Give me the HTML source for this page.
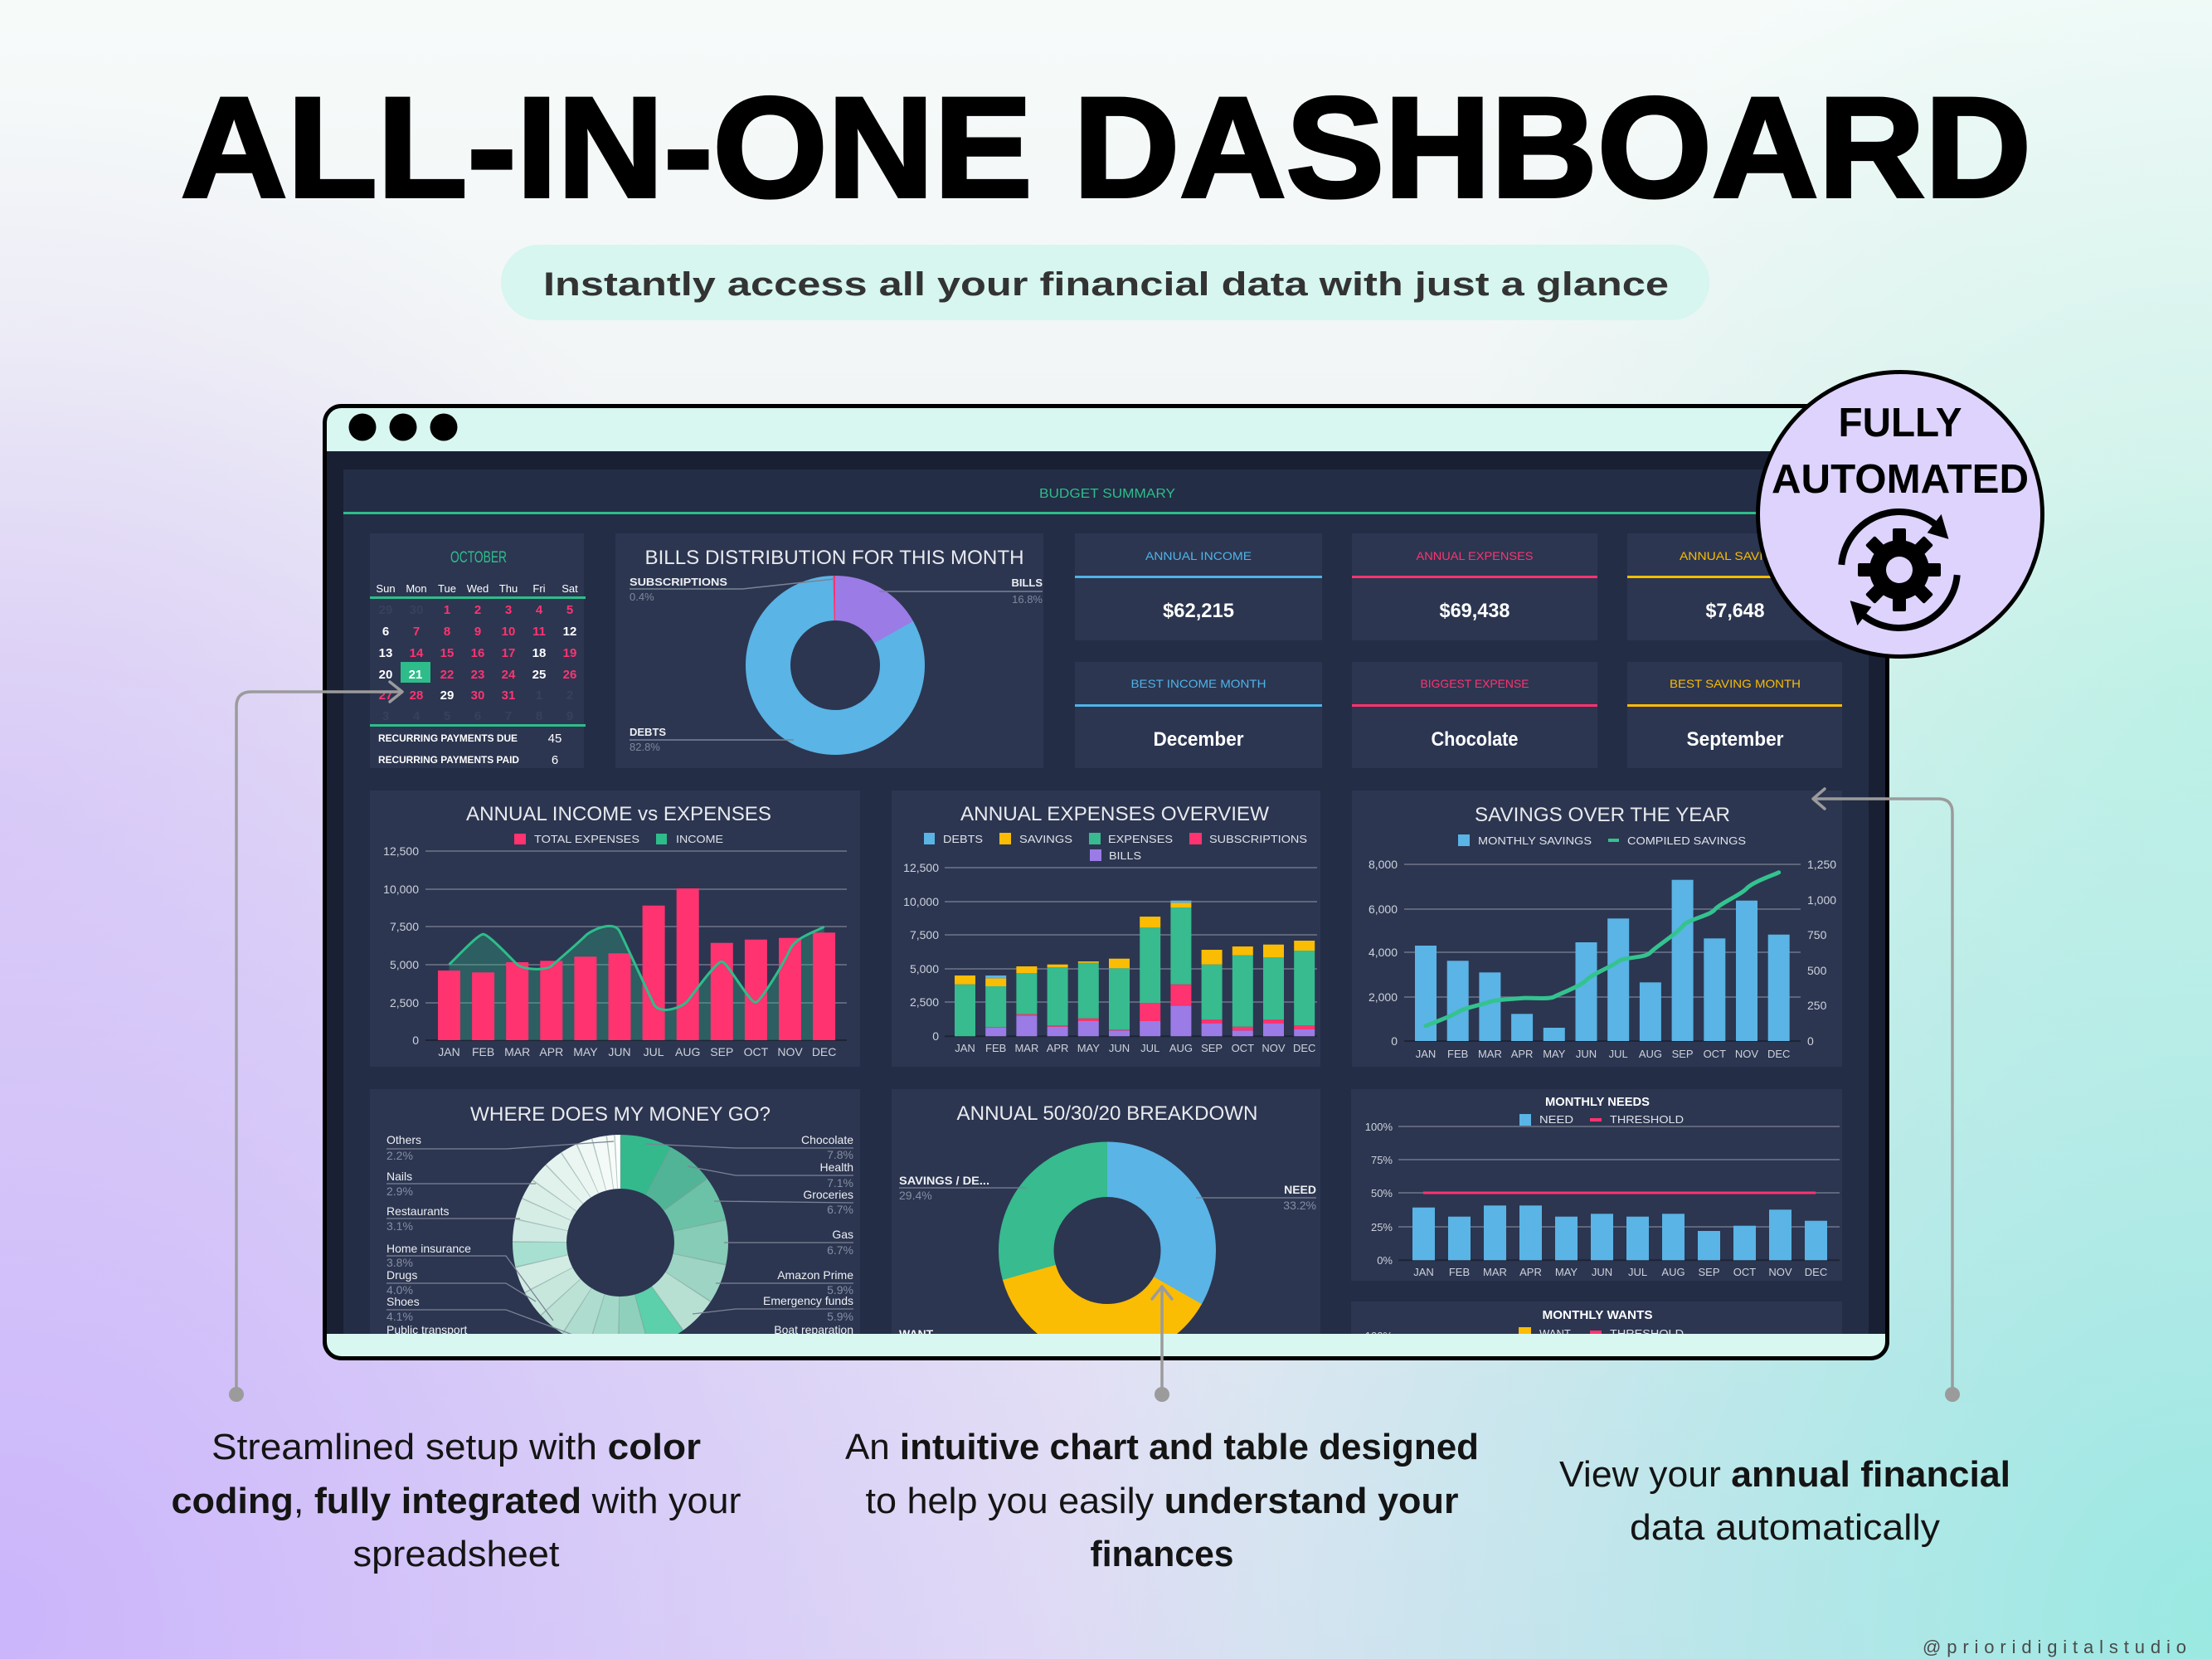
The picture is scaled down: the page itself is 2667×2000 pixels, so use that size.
<!DOCTYPE html>
<html><head><meta charset="utf-8"><style>
html,body{margin:0;padding:0;background:#f3f5f6;}
svg{display:block;}
text{font-family:"Liberation Sans",Arial,sans-serif;}
.ax{fill:#cdd2db;font-size:14px;}
.axr{fill:#cdd2db;font-size:14px;text-anchor:end;}
.mo{fill:#cdd2db;font-size:14px;text-anchor:middle;}
.mo2{fill:#cdd2db;font-size:13px;text-anchor:middle;}
.ct{fill:#e9eaee;font-size:24px;text-anchor:middle;}
.lg{fill:#dfe2e8;font-size:13px;}
.dp{fill:#ff3370;font-size:15px;font-weight:bold;text-anchor:middle;}
.dw{fill:#ffffff;font-size:15px;font-weight:bold;text-anchor:middle;}
.dd{fill:#36415c;font-size:15px;font-weight:bold;text-anchor:middle;}
.nm{fill:#eef0f3;font-size:14px;}
.pc{fill:#858ea2;font-size:14px;}
.cap{font-size:44px;fill:#141414;text-anchor:middle;}
</style></head><body>
<svg xmlns="http://www.w3.org/2000/svg" width="2667" height="2000" viewBox="0 0 2667 2000">
<defs>
  <linearGradient id="bg" x1="0" y1="0" x2="0" y2="1">
    <stop offset="0" stop-color="#f6fbfa"/>
    <stop offset="0.4" stop-color="#eff1f3"/>
    <stop offset="1" stop-color="#e3e1f4"/>
  </linearGradient>
  <radialGradient id="lav" cx="0" cy="1950" r="1550" gradientUnits="userSpaceOnUse">
    <stop offset="0" stop-color="#cbb5fb" stop-opacity="1"/>
    <stop offset="1" stop-color="#cbb5fb" stop-opacity="0"/>
  </radialGradient>
  <radialGradient id="aqua" cx="2667" cy="1950" r="1400" gradientUnits="userSpaceOnUse">
    <stop offset="0" stop-color="#9ae9e2" stop-opacity="1"/>
    <stop offset="1" stop-color="#9ae9e2" stop-opacity="0"/>
  </radialGradient>
  <radialGradient id="mintR" cx="2667" cy="850" r="1000" gradientUnits="userSpaceOnUse">
    <stop offset="0" stop-color="#c2f3e6" stop-opacity="0.9"/>
    <stop offset="1" stop-color="#c2f3e6" stop-opacity="0"/>
  </radialGradient>
  <radialGradient id="lavL" cx="0" cy="1000" r="900" gradientUnits="userSpaceOnUse">
    <stop offset="0" stop-color="#dccff6" stop-opacity="0.8"/>
    <stop offset="1" stop-color="#dccff6" stop-opacity="0"/>
  </radialGradient>
  <clipPath id="dash"><rect x="394" y="544" width="1879" height="1064"/></clipPath>
</defs>

<!-- background -->
<rect x="0" y="0" width="2667" height="2000" fill="url(#bg)"/>
<rect x="0" y="0" width="2667" height="2000" fill="url(#lavL)"/>
<rect x="0" y="0" width="2667" height="2000" fill="url(#mintR)"/>
<rect x="0" y="0" width="2667" height="2000" fill="url(#lav)"/>
<rect x="0" y="0" width="2667" height="2000" fill="url(#aqua)"/>

<!-- title -->
<text x="218" y="237" font-size="172" font-weight="bold" fill="#000" stroke="#000" stroke-width="4" textLength="2231" lengthAdjust="spacingAndGlyphs">ALL-IN-ONE DASHBOARD</text>

<!-- subtitle pill -->
<rect x="604" y="295" width="1457" height="91" rx="45.5" fill="#d6f6ef"/>
<text x="655" y="356" font-size="40" font-weight="bold" fill="#333" textLength="1357" lengthAdjust="spacingAndGlyphs">Instantly access all your financial data with just a glance</text>

<!-- window -->
<rect x="391.5" y="489.5" width="1884" height="1148" rx="20" fill="#d8f7f1"/>
<circle cx="437" cy="515" r="16.5" fill="#000"/>
<circle cx="486" cy="515" r="16.5" fill="#000"/>
<circle cx="535" cy="515" r="16.5" fill="#000"/>

<g clip-path="url(#dash)">
<rect x="394" y="544" width="1879" height="1064" fill="#1a2034"/>
<rect x="414" y="566" width="1839" height="1042" fill="#232d46"/>
<text x="1335" y="600" font-size="16" fill="#2ebd8a" text-anchor="middle" textLength="164" lengthAdjust="spacingAndGlyphs">BUDGET SUMMARY</text>
<rect x="414" y="617" width="1839" height="3" fill="#2ebd8a"/>

<!-- calendar -->
<rect x="446" y="643" width="258" height="283" fill="#2c3651"/>
<text x="577" y="678" font-size="19" fill="#2ebd8a" text-anchor="middle" textLength="68" lengthAdjust="spacingAndGlyphs">OCTOBER</text>
<g font-size="13" fill="#fff" text-anchor="middle">
<text x="465" y="714">Sun</text><text x="502" y="714">Mon</text><text x="539" y="714">Tue</text><text x="576" y="714">Wed</text><text x="613" y="714">Thu</text><text x="650" y="714">Fri</text><text x="687" y="714">Sat</text>
</g>
<rect x="446" y="719" width="260" height="3" fill="#2ebd8a"/>
<text class="dd" x="465" y="740">29</text><text class="dd" x="502" y="740">30</text><text class="dp" x="539" y="740">1</text><text class="dp" x="576" y="740">2</text><text class="dp" x="613" y="740">3</text><text class="dp" x="650" y="740">4</text><text class="dp" x="687" y="740">5</text>
<text class="dw" x="465" y="766">6</text><text class="dp" x="502" y="766">7</text><text class="dp" x="539" y="766">8</text><text class="dp" x="576" y="766">9</text><text class="dp" x="613" y="766">10</text><text class="dp" x="650" y="766">11</text><text class="dw" x="687" y="766">12</text>
<text class="dw" x="465" y="792">13</text><text class="dp" x="502" y="792">14</text><text class="dp" x="539" y="792">15</text><text class="dp" x="576" y="792">16</text><text class="dp" x="613" y="792">17</text><text class="dw" x="650" y="792">18</text><text class="dp" x="687" y="792">19</text>
<rect x="483" y="798" width="36" height="25" fill="#2ebd8a"/>
<text class="dw" x="465" y="818">20</text><text class="dw" x="501" y="818">21</text><text class="dp" x="539" y="818">22</text><text class="dp" x="576" y="818">23</text><text class="dp" x="613" y="818">24</text><text class="dw" x="650" y="818">25</text><text class="dp" x="687" y="818">26</text>
<text class="dp" x="465" y="843">27</text><text class="dp" x="502" y="843">28</text><text class="dw" x="539" y="843">29</text><text class="dp" x="576" y="843">30</text><text class="dp" x="613" y="843">31</text><text class="dd" x="650" y="843">1</text><text class="dd" x="687" y="843">2</text>
<text class="dd" x="465" y="868">3</text><text class="dd" x="502" y="868">4</text><text class="dd" x="539" y="868">5</text><text class="dd" x="576" y="868">6</text><text class="dd" x="613" y="868">7</text><text class="dd" x="650" y="868">8</text><text class="dd" x="687" y="868">9</text>
<rect x="446" y="873" width="260" height="3" fill="#2ebd8a"/>
<text x="456" y="894" font-size="12" font-weight="bold" fill="#fff" textLength="168" lengthAdjust="spacingAndGlyphs">RECURRING PAYMENTS DUE</text>
<text x="669" y="895" font-size="15" fill="#fff" text-anchor="middle">45</text>
<text x="456" y="920" font-size="12" font-weight="bold" fill="#fff" textLength="170" lengthAdjust="spacingAndGlyphs">RECURRING PAYMENTS PAID</text>
<text x="669" y="921" font-size="15" fill="#fff" text-anchor="middle">6</text>

<!-- bills distribution -->
<rect x="742" y="643" width="516" height="283" fill="#2c3651"/>
<text x="1006" y="680" font-size="24" fill="#e9eaee" text-anchor="middle" textLength="457" lengthAdjust="spacingAndGlyphs">BILLS DISTRIBUTION FOR THIS MONTH</text>
<g transform="rotate(-90 1007 802)" fill="none" stroke-width="54">
  <circle cx="1007" cy="802" r="81" stroke="#9b7be6" stroke-dasharray="86 600" stroke-dashoffset="0"/>
  <circle cx="1007" cy="802" r="81" stroke="#5ab4e5" stroke-dasharray="421.9 600" stroke-dashoffset="-85.5"/>
  <circle cx="1007" cy="802" r="81" stroke="#ff3370" stroke-dasharray="2.2 600" stroke-dashoffset="-506.8"/>
</g>
<g stroke="#7b8394" stroke-width="1.5" fill="none">
  <path d="M759,710 L895,710 L1006,698"/>
  <path d="M1257,713 L1060,713"/>
  <path d="M759,892 L957,892"/>
</g>
<text x="759" y="706" font-size="13" font-weight="bold" fill="#eef0f3" textLength="118" lengthAdjust="spacingAndGlyphs">SUBSCRIPTIONS</text>
<text x="759" y="724" font-size="13" fill="#7f889b">0.4%</text>
<text x="1257" y="707" font-size="13" font-weight="bold" fill="#eef0f3" text-anchor="end">BILLS</text>
<text x="1257" y="727" font-size="13" fill="#7f889b" text-anchor="end">16.8%</text>
<text x="759" y="887" font-size="13" font-weight="bold" fill="#eef0f3">DEBTS</text>
<text x="759" y="905" font-size="13" fill="#7f889b">82.8%</text>

<!-- KPI cards -->
<g>
<rect x="1296" y="643" width="298" height="129" fill="#2c3651"/>
<rect x="1630" y="643" width="296" height="129" fill="#2c3651"/>
<rect x="1962" y="643" width="259" height="129" fill="#2c3651"/>
<rect x="1296" y="798" width="298" height="128" fill="#2c3651"/>
<rect x="1630" y="798" width="296" height="128" fill="#2c3651"/>
<rect x="1962" y="798" width="259" height="128" fill="#2c3651"/>
<rect x="1296" y="694" width="298" height="3" fill="#4fb3e8"/>
<rect x="1630" y="694" width="296" height="3" fill="#ff3370"/>
<rect x="1962" y="694" width="259" height="3" fill="#fbbc04"/>
<rect x="1296" y="849" width="298" height="3" fill="#4fb3e8"/>
<rect x="1630" y="849" width="296" height="3" fill="#ff3370"/>
<rect x="1962" y="849" width="259" height="3" fill="#fbbc04"/>
<text x="1445" y="675" font-size="14" fill="#4fb3e8" text-anchor="middle" textLength="128" lengthAdjust="spacingAndGlyphs">ANNUAL INCOME</text>
<text x="1778" y="675" font-size="14" fill="#ff3370" text-anchor="middle" textLength="141" lengthAdjust="spacingAndGlyphs">ANNUAL EXPENSES</text>
<text x="2092" y="675" font-size="14" fill="#fbbc04" text-anchor="middle" textLength="134" lengthAdjust="spacingAndGlyphs">ANNUAL SAVINGS</text>
<text x="1445" y="829" font-size="14" fill="#4fb3e8" text-anchor="middle" textLength="163" lengthAdjust="spacingAndGlyphs">BEST INCOME MONTH</text>
<text x="1778" y="829" font-size="14" fill="#ff3370" text-anchor="middle" textLength="131" lengthAdjust="spacingAndGlyphs">BIGGEST EXPENSE</text>
<text x="2092" y="829" font-size="14" fill="#fbbc04" text-anchor="middle" textLength="158" lengthAdjust="spacingAndGlyphs">BEST SAVING MONTH</text>
<g font-size="24" font-weight="bold" fill="#fff" text-anchor="middle">
<text x="1445" y="744" textLength="86" lengthAdjust="spacingAndGlyphs">$62,215</text>
<text x="1778" y="744" textLength="85" lengthAdjust="spacingAndGlyphs">$69,438</text>
<text x="2092" y="744" textLength="71" lengthAdjust="spacingAndGlyphs">$7,648</text>
<text x="1445" y="899" textLength="109" lengthAdjust="spacingAndGlyphs">December</text>
<text x="1778" y="899" textLength="105" lengthAdjust="spacingAndGlyphs">Chocolate</text>
<text x="2092" y="899" textLength="117" lengthAdjust="spacingAndGlyphs">September</text>
</g>
</g>

<!-- Chart A: income vs expenses -->
<rect x="446" y="953" width="591" height="333" fill="#2c3651"/>
<text class="ct" x="746" y="989" textLength="368" lengthAdjust="spacingAndGlyphs">ANNUAL INCOME vs EXPENSES</text>
<rect x="620" y="1005" width="14" height="13" fill="#ff3370"/>
<text class="lg" x="644" y="1016" textLength="127" lengthAdjust="spacingAndGlyphs">TOTAL EXPENSES</text>
<rect x="791" y="1005" width="13" height="13" fill="#2ebd8a"/>
<text class="lg" x="815" y="1016" textLength="57" lengthAdjust="spacingAndGlyphs">INCOME</text>
<g stroke="#6f7688" stroke-width="1.5">
<line x1="513" y1="1026" x2="1021" y2="1026"/><line x1="513" y1="1072" x2="1021" y2="1072"/><line x1="513" y1="1117" x2="1021" y2="1117"/><line x1="513" y1="1163" x2="1021" y2="1163"/><line x1="513" y1="1209" x2="1021" y2="1209"/>
</g>
<line x1="513" y1="1254" x2="1021" y2="1254" stroke="#1e2436" stroke-width="2"/>
<g class="axr">
<text class="axr" x="505" y="1031">12,500</text><text class="axr" x="505" y="1077">10,000</text><text class="axr" x="505" y="1122">7,500</text><text class="axr" x="505" y="1168">5,000</text><text class="axr" x="505" y="1214">2,500</text><text class="axr" x="505" y="1259">0</text>
</g>
<path d="M541.5,1254 L541.5,1162.8 C548.35,1156.7 575.75,1126.3 582.6,1126.3 C589.45,1126.3 616.85,1156.4 623.7,1162.8 C630.55,1169.2 657.95,1170.4 664.8,1164.6 C671.65,1158.8 699.05,1135.1 705.9,1128.1 C712.75,1121.1 740.15,1108.9 747,1122.7 C753.85,1136.4 781.25,1196.2 788.1,1210.2 C794.95,1224.2 822.35,1215.1 829.2,1206.6 C836.05,1198.1 863.45,1158.9 870.3,1159.2 C877.15,1159.5 904.55,1210.8 911.4,1208.4 C918.25,1206 945.65,1159.8 952.5,1144.6 C959.35,1129.4 986.75,1121.8 993.6,1117.2 L993.6,1254 Z" fill="#2ebd8a" fill-opacity="0.3"/>
<g fill="#ff3370">
<rect x="528" y="1170" width="27" height="84"/><rect x="569.1" y="1172.3" width="27" height="81.7"/><rect x="610.2" y="1160" width="27" height="94"/><rect x="651.3" y="1158.3" width="27" height="95.7"/><rect x="692.4" y="1153.3" width="27" height="100.7"/><rect x="733.5" y="1149.3" width="27" height="104.7"/><rect x="774.6" y="1091.7" width="27" height="162.3"/><rect x="815.7" y="1071" width="27" height="183"/><rect x="856.8" y="1136.7" width="27" height="117.3"/><rect x="897.9" y="1132.7" width="27" height="121.3"/><rect x="939" y="1130.7" width="27" height="123.3"/><rect x="980.1" y="1124.3" width="27" height="129.7"/>
</g>
<path d="M541.5,1162.8 C548.35,1156.7 575.75,1126.3 582.6,1126.3 C589.45,1126.3 616.85,1156.4 623.7,1162.8 C630.55,1169.2 657.95,1170.4 664.8,1164.6 C671.65,1158.8 699.05,1135.1 705.9,1128.1 C712.75,1121.1 740.15,1108.9 747,1122.7 C753.85,1136.4 781.25,1196.2 788.1,1210.2 C794.95,1224.2 822.35,1215.1 829.2,1206.6 C836.05,1198.1 863.45,1158.9 870.3,1159.2 C877.15,1159.5 904.55,1210.8 911.4,1208.4 C918.25,1206 945.65,1159.8 952.5,1144.6 C959.35,1129.4 986.75,1121.8 993.6,1117.2" fill="none" stroke="#2ebd8a" stroke-width="3"/>
<text class="mo" x="541.5" y="1273">JAN</text><text class="mo" x="582.6" y="1273">FEB</text><text class="mo" x="623.7" y="1273">MAR</text><text class="mo" x="664.8" y="1273">APR</text><text class="mo" x="705.9" y="1273">MAY</text><text class="mo" x="747" y="1273">JUN</text><text class="mo" x="788.1" y="1273">JUL</text><text class="mo" x="829.2" y="1273">AUG</text><text class="mo" x="870.3" y="1273">SEP</text><text class="mo" x="911.4" y="1273">OCT</text><text class="mo" x="952.5" y="1273">NOV</text><text class="mo" x="993.6" y="1273">DEC</text>

<!-- Chart B: expenses overview -->
<rect x="1075" y="953" width="517" height="333" fill="#2c3651"/>
<text class="ct" x="1344" y="989" textLength="372" lengthAdjust="spacingAndGlyphs">ANNUAL EXPENSES OVERVIEW</text>
<rect x="1114" y="1004" width="13" height="14" fill="#5ab4e5"/><text class="lg" x="1137" y="1016" textLength="48" lengthAdjust="spacingAndGlyphs">DEBTS</text>
<rect x="1205" y="1004" width="14" height="14" fill="#fbbc04"/><text class="lg" x="1229" y="1016" textLength="64" lengthAdjust="spacingAndGlyphs">SAVINGS</text>
<rect x="1313" y="1004" width="14" height="14" fill="#37bb8f"/><text class="lg" x="1336" y="1016" textLength="78" lengthAdjust="spacingAndGlyphs">EXPENSES</text>
<rect x="1434" y="1004" width="15" height="14" fill="#ff3370"/><text class="lg" x="1458" y="1016" textLength="118" lengthAdjust="spacingAndGlyphs">SUBSCRIPTIONS</text>
<rect x="1314" y="1024" width="14" height="14" fill="#9b7be6"/><text class="lg" x="1337" y="1036" textLength="39" lengthAdjust="spacingAndGlyphs">BILLS</text>
<g stroke="#6f7688" stroke-width="1.5">
<line x1="1139" y1="1046" x2="1588" y2="1046"/><line x1="1139" y1="1087" x2="1588" y2="1087"/><line x1="1139" y1="1127" x2="1588" y2="1127"/><line x1="1139" y1="1168" x2="1588" y2="1168"/><line x1="1139" y1="1208" x2="1588" y2="1208"/>
</g>
<line x1="1139" y1="1249.3" x2="1588" y2="1249.3" stroke="#1e2436" stroke-width="2"/>
<text class="axr" x="1132" y="1051">12,500</text><text class="axr" x="1132" y="1092">10,000</text><text class="axr" x="1132" y="1132">7,500</text><text class="axr" x="1132" y="1173">5,000</text><text class="axr" x="1132" y="1213">2,500</text><text class="axr" x="1132" y="1254">0</text>
<g>
<rect x="1151" y="1186.7" width="25" height="62.6" fill="#37bb8f"/><rect x="1151" y="1176" width="25" height="10.7" fill="#fbbc04"/>
<rect x="1188.2" y="1239" width="25" height="10.3" fill="#9b7be6"/><rect x="1188.2" y="1238" width="25" height="1" fill="#ff3370"/><rect x="1188.2" y="1189" width="25" height="49" fill="#37bb8f"/><rect x="1188.2" y="1179.3" width="25" height="9.7" fill="#fbbc04"/><rect x="1188.2" y="1176" width="25" height="3.3" fill="#5ab4e5"/>
<rect x="1225.4" y="1224.3" width="25" height="25" fill="#9b7be6"/><rect x="1225.4" y="1222.7" width="25" height="1.6" fill="#ff3370"/><rect x="1225.4" y="1173.3" width="25" height="49.4" fill="#37bb8f"/><rect x="1225.4" y="1165" width="25" height="8.3" fill="#fbbc04"/>
<rect x="1262.6" y="1237.7" width="25" height="11.6" fill="#9b7be6"/><rect x="1262.6" y="1236.3" width="25" height="1.4" fill="#ff3370"/><rect x="1262.6" y="1166" width="25" height="70.3" fill="#37bb8f"/><rect x="1262.6" y="1162.7" width="25" height="3.3" fill="#fbbc04"/>
<rect x="1299.8" y="1231" width="25" height="18.3" fill="#9b7be6"/><rect x="1299.8" y="1227.7" width="25" height="3.3" fill="#ff3370"/><rect x="1299.8" y="1160.7" width="25" height="67" fill="#37bb8f"/><rect x="1299.8" y="1159" width="25" height="1.7" fill="#fbbc04"/>
<rect x="1337" y="1242.3" width="25" height="7" fill="#9b7be6"/><rect x="1337" y="1241.3" width="25" height="1" fill="#ff3370"/><rect x="1337" y="1167.3" width="25" height="74" fill="#37bb8f"/><rect x="1337" y="1155.7" width="25" height="11.6" fill="#fbbc04"/>
<rect x="1374.2" y="1231" width="25" height="18.3" fill="#9b7be6"/><rect x="1374.2" y="1209" width="25" height="22" fill="#ff3370"/><rect x="1374.2" y="1118.3" width="25" height="90.7" fill="#37bb8f"/><rect x="1374.2" y="1105" width="25" height="13.3" fill="#fbbc04"/>
<rect x="1411.4" y="1212.3" width="25" height="37" fill="#9b7be6"/><rect x="1411.4" y="1186.7" width="25" height="25.6" fill="#ff3370"/><rect x="1411.4" y="1094" width="25" height="92.7" fill="#37bb8f"/><rect x="1411.4" y="1088.3" width="25" height="5.7" fill="#fbbc04"/><rect x="1411.4" y="1085.7" width="25" height="2.6" fill="#5ab4e5"/>
<rect x="1448.6" y="1234" width="25" height="15.3" fill="#9b7be6"/><rect x="1448.6" y="1229" width="25" height="5" fill="#ff3370"/><rect x="1448.6" y="1162.7" width="25" height="66.3" fill="#37bb8f"/><rect x="1448.6" y="1145" width="25" height="17.7" fill="#fbbc04"/>
<rect x="1485.8" y="1242.3" width="25" height="7" fill="#9b7be6"/><rect x="1485.8" y="1237.7" width="25" height="4.6" fill="#ff3370"/><rect x="1485.8" y="1151.7" width="25" height="86" fill="#37bb8f"/><rect x="1485.8" y="1141" width="25" height="10.7" fill="#fbbc04"/>
<rect x="1523" y="1234" width="25" height="15.3" fill="#9b7be6"/><rect x="1523" y="1229" width="25" height="5" fill="#ff3370"/><rect x="1523" y="1154.3" width="25" height="74.7" fill="#37bb8f"/><rect x="1523" y="1138.7" width="25" height="15.6" fill="#fbbc04"/>
<rect x="1560.2" y="1241" width="25" height="8.3" fill="#9b7be6"/><rect x="1560.2" y="1236.3" width="25" height="4.7" fill="#ff3370"/><rect x="1560.2" y="1146" width="25" height="90.3" fill="#37bb8f"/><rect x="1560.2" y="1134" width="25" height="12" fill="#fbbc04"/>
</g>
<text class="mo2" x="1163.5" y="1268">JAN</text><text class="mo2" x="1200.7" y="1268">FEB</text><text class="mo2" x="1237.9" y="1268">MAR</text><text class="mo2" x="1275.1" y="1268">APR</text><text class="mo2" x="1312.3" y="1268">MAY</text><text class="mo2" x="1349.5" y="1268">JUN</text><text class="mo2" x="1386.7" y="1268">JUL</text><text class="mo2" x="1423.9" y="1268">AUG</text><text class="mo2" x="1461.1" y="1268">SEP</text><text class="mo2" x="1498.3" y="1268">OCT</text><text class="mo2" x="1535.5" y="1268">NOV</text><text class="mo2" x="1572.7" y="1268">DEC</text>

<!-- Chart C: savings -->
<rect x="1630" y="953" width="591" height="333" fill="#2c3651"/>
<text class="ct" x="1932" y="990" textLength="308" lengthAdjust="spacingAndGlyphs">SAVINGS OVER THE YEAR</text>
<rect x="1758" y="1006" width="14" height="14" fill="#5ab4e5"/><text class="lg" x="1782" y="1018" textLength="137" lengthAdjust="spacingAndGlyphs">MONTHLY SAVINGS</text>
<line x1="1939" y1="1013" x2="1952" y2="1013" stroke="#34c38f" stroke-width="4"/><text class="lg" x="1962" y="1018" textLength="143" lengthAdjust="spacingAndGlyphs">COMPILED SAVINGS</text>
<g stroke="#6f7688" stroke-width="1.5">
<line x1="1693" y1="1042" x2="2171" y2="1042"/><line x1="1693" y1="1096" x2="2171" y2="1096"/><line x1="1693" y1="1148" x2="2171" y2="1148"/><line x1="1693" y1="1202" x2="2171" y2="1202"/>
</g>
<line x1="1693" y1="1255" x2="2171" y2="1255" stroke="#1e2436" stroke-width="2"/>
<text class="axr" x="1685" y="1047">8,000</text><text class="axr" x="1685" y="1101">6,000</text><text class="axr" x="1685" y="1153">4,000</text><text class="axr" x="1685" y="1207">2,000</text><text class="axr" x="1685" y="1260">0</text>
<text class="ax" x="2179" y="1047">1,250</text><text class="ax" x="2179" y="1090">1,000</text><text class="ax" x="2179" y="1132">750</text><text class="ax" x="2179" y="1175">500</text><text class="ax" x="2179" y="1217">250</text><text class="ax" x="2179" y="1260">0</text>
<g fill="#5ab4e5">
<rect x="1706" y="1140" width="26" height="115"/><rect x="1744.7" y="1158.3" width="26" height="96.7"/><rect x="1783.4" y="1172.3" width="26" height="82.7"/><rect x="1822.1" y="1222.3" width="26" height="32.7"/><rect x="1860.8" y="1239" width="26" height="16"/><rect x="1899.5" y="1136" width="26" height="119"/><rect x="1938.2" y="1107.3" width="26" height="147.7"/><rect x="1976.9" y="1184.3" width="26" height="70.7"/><rect x="2015.6" y="1060.7" width="26" height="194.3"/><rect x="2054.3" y="1131.3" width="26" height="123.7"/><rect x="2093" y="1085.7" width="26" height="169.3"/><rect x="2131.7" y="1126.7" width="26" height="128.3"/>
</g>
<path d="M1719,1236.7 C1725.45,1233.9 1751.25,1224.8 1757.7,1220 C1764.15,1215.2 1789.95,1210.5 1796.4,1207.7 C1802.85,1204.9 1828.65,1204.3 1835.1,1203.3 C1841.55,1202.3 1867.35,1205.3 1873.8,1201.7 C1880.25,1198.1 1906.05,1188.8 1912.5,1181.7 C1918.95,1174.6 1944.75,1164.6 1951.2,1159 C1957.65,1153.4 1983.45,1155.4 1989.9,1148.3 C1996.35,1141.3 2022.15,1125.3 2028.6,1116.7 C2035.05,1108.1 2060.85,1104.3 2067.3,1096.7 C2073.75,1089.1 2099.55,1078.5 2106,1071 C2112.45,1063.5 2138.25,1054.9 2144.7,1051.7" fill="none" stroke="#34c38f" stroke-width="5" stroke-linecap="round"/>
<text class="mo2" x="1719" y="1275">JAN</text><text class="mo2" x="1757.7" y="1275">FEB</text><text class="mo2" x="1796.4" y="1275">MAR</text><text class="mo2" x="1835.1" y="1275">APR</text><text class="mo2" x="1873.8" y="1275">MAY</text><text class="mo2" x="1912.5" y="1275">JUN</text><text class="mo2" x="1951.2" y="1275">JUL</text><text class="mo2" x="1989.9" y="1275">AUG</text><text class="mo2" x="2028.6" y="1275">SEP</text><text class="mo2" x="2067.3" y="1275">OCT</text><text class="mo2" x="2106" y="1275">NOV</text><text class="mo2" x="2144.7" y="1275">DEC</text>

<!-- Chart D: where does my money go -->
<rect x="446" y="1313" width="591" height="400" fill="#2c3651"/>
<text class="ct" x="748" y="1351" textLength="362" lengthAdjust="spacingAndGlyphs">WHERE DOES MY MONEY GO?</text>
<g transform="rotate(-90 748 1498)" fill="none" stroke-width="65">
<circle cx="748" cy="1498" r="97.5" stroke="#34b98d" stroke-dasharray="48.3 700" stroke-dashoffset="0"/>
<circle cx="748" cy="1498" r="97.5" stroke="#52b496" stroke-dasharray="44 700" stroke-dashoffset="-47.78"/>
<circle cx="748" cy="1498" r="97.5" stroke="#6cc2a7" stroke-dasharray="41.5 700" stroke-dashoffset="-91.28"/>
<circle cx="748" cy="1498" r="97.5" stroke="#86ccb7" stroke-dasharray="41.5 700" stroke-dashoffset="-132.32"/>
<circle cx="748" cy="1498" r="97.5" stroke="#9dd4c3" stroke-dasharray="36.6 700" stroke-dashoffset="-173.37"/>
<circle cx="748" cy="1498" r="97.5" stroke="#b7e0d3" stroke-dasharray="36.6 700" stroke-dashoffset="-209.51"/>
<circle cx="748" cy="1498" r="97.5" stroke="#5ccfab" stroke-dasharray="34.8 700" stroke-dashoffset="-245.66"/>
<circle cx="748" cy="1498" r="97.5" stroke="#8fd0bc" stroke-dasharray="28.7 700" stroke-dashoffset="-279.96"/>
<circle cx="748" cy="1498" r="97.5" stroke="#a1d8c8" stroke-dasharray="27.4 700" stroke-dashoffset="-308.14"/>
<circle cx="748" cy="1498" r="97.5" stroke="#aedcce" stroke-dasharray="26.8 700" stroke-dashoffset="-335.10"/>
<circle cx="748" cy="1498" r="97.5" stroke="#bce2d6" stroke-dasharray="26.2 700" stroke-dashoffset="-361.44"/>
<circle cx="748" cy="1498" r="97.5" stroke="#c7e7dd" stroke-dasharray="25.6 700" stroke-dashoffset="-387.17"/>
<circle cx="748" cy="1498" r="97.5" stroke="#d2ebe3" stroke-dasharray="25 700" stroke-dashoffset="-412.29"/>
<circle cx="748" cy="1498" r="97.5" stroke="#a7e0d0" stroke-dasharray="23.8 700" stroke-dashoffset="-436.79"/>
<circle cx="748" cy="1498" r="97.5" stroke="#cfeae2" stroke-dasharray="21.3 700" stroke-dashoffset="-460.07"/>
<circle cx="748" cy="1498" r="97.5" stroke="#d6ede6" stroke-dasharray="20.1 700" stroke-dashoffset="-480.90"/>
<circle cx="748" cy="1498" r="97.5" stroke="#dbefe9" stroke-dasharray="19.5 700" stroke-dashoffset="-500.50"/>
<circle cx="748" cy="1498" r="97.5" stroke="#e1f2ec" stroke-dasharray="18.9 700" stroke-dashoffset="-519.49"/>
<circle cx="748" cy="1498" r="97.5" stroke="#e6f4ef" stroke-dasharray="18.3 700" stroke-dashoffset="-537.87"/>
<circle cx="748" cy="1498" r="97.5" stroke="#ebf6f2" stroke-dasharray="16.4 700" stroke-dashoffset="-555.64"/>
<circle cx="748" cy="1498" r="97.5" stroke="#eff8f5" stroke-dasharray="15.2 700" stroke-dashoffset="-571.57"/>
<circle cx="748" cy="1498" r="97.5" stroke="#f3faf7" stroke-dasharray="14 700" stroke-dashoffset="-586.27"/>
<circle cx="748" cy="1498" r="97.5" stroke="#f7fcfa" stroke-dasharray="7.9 700" stroke-dashoffset="-599.75"/>
<circle cx="748" cy="1498" r="97.5" stroke="#ffffff" stroke-dasharray="5.6 700" stroke-dashoffset="-607.10"/>
<circle cx="748" cy="1498" r="97.5" stroke="#7d9a93" stroke-opacity="0.55" stroke-dasharray="1.2 46.58 1.2 42.3 1.2 39.84 1.2 39.84 1.2 34.94 1.2 34.94 1.2 33.11 1.2 26.98 1.2 25.75 1.2 25.14 1.2 24.53 1.2 23.92 1.2 23.3 1.2 22.08 1.2 19.63 1.2 18.4 1.2 17.79 1.2 17.18 1.2 16.57 1.2 14.73 1.2 13.5 1.2 12.28 1.2 6.15 1.2 4.31" stroke-dashoffset="0.6"/>
</g>
<g stroke="#7b8394" stroke-width="1.3" fill="none">
<path d="M466,1385 L610,1385 L740,1376"/>
<path d="M466,1427 L646,1427"/>
<path d="M466,1469 L627,1469"/>
<path d="M466,1514 L610,1514 L667,1592"/>
<path d="M466,1547 L610,1547 L646,1569"/>
<path d="M466,1579 L610,1579 L693,1610"/>
<path d="M1029,1384 L887,1384 L778,1379"/>
<path d="M1029,1417 L887,1417 L829,1406"/>
<path d="M1029,1450 L861,1448"/>
<path d="M1029,1498 L873,1498"/>
<path d="M1029,1547 L863,1547"/>
<path d="M1029,1578 L887,1578 L835,1584"/>
</g>
<text class="nm" x="466" y="1379">Others</text><text class="pc" x="466" y="1398">2.2%</text>
<text class="nm" x="466" y="1423">Nails</text><text class="pc" x="466" y="1441">2.9%</text>
<text class="nm" x="466" y="1465">Restaurants</text><text class="pc" x="466" y="1483">3.1%</text>
<text class="nm" x="466" y="1510">Home insurance</text><text class="pc" x="466" y="1527">3.8%</text>
<text class="nm" x="466" y="1542">Drugs</text><text class="pc" x="466" y="1560">4.0%</text>
<text class="nm" x="466" y="1574">Shoes</text><text class="pc" x="466" y="1592">4.1%</text>
<text class="nm" x="466" y="1608">Public transport</text>
<g text-anchor="end">
<text class="nm" x="1029" y="1379" text-anchor="end">Chocolate</text><text class="pc" x="1029" y="1397" text-anchor="end">7.8%</text>
<text class="nm" x="1029" y="1412" text-anchor="end">Health</text><text class="pc" x="1029" y="1431" text-anchor="end">7.1%</text>
<text class="nm" x="1029" y="1445" text-anchor="end">Groceries</text><text class="pc" x="1029" y="1463" text-anchor="end">6.7%</text>
<text class="nm" x="1029" y="1493" text-anchor="end">Gas</text><text class="pc" x="1029" y="1512" text-anchor="end">6.7%</text>
<text class="nm" x="1029" y="1542" text-anchor="end">Amazon Prime</text><text class="pc" x="1029" y="1560" text-anchor="end">5.9%</text>
<text class="nm" x="1029" y="1573" text-anchor="end">Emergency funds</text><text class="pc" x="1029" y="1592" text-anchor="end">5.9%</text>
<text class="nm" x="1029" y="1608" text-anchor="end">Boat reparation</text>
</g>

<!-- Chart E: 50/30/20 -->
<rect x="1075" y="1313" width="517" height="400" fill="#2c3651"/>
<text class="ct" x="1335" y="1350" textLength="363" lengthAdjust="spacingAndGlyphs">ANNUAL 50/30/20 BREAKDOWN</text>
<g transform="rotate(-90 1335 1507.5)" fill="none" stroke-width="66.5">
<circle cx="1335" cy="1507.5" r="97.75" stroke="#5ab4e5" stroke-dasharray="204.4 700" stroke-dashoffset="0"/>
<circle cx="1335" cy="1507.5" r="97.75" stroke="#fbbc04" stroke-dasharray="230.2 700" stroke-dashoffset="-203.91"/>
<circle cx="1335" cy="1507.5" r="97.75" stroke="#37bb8f" stroke-dasharray="180.6 700" stroke-dashoffset="-433.61"/>
</g>
<g stroke="#7b8394" stroke-width="1.3" fill="none">
<path d="M1084,1432 L1238,1432"/>
<path d="M1587,1444 L1442,1444"/>
</g>
<text x="1084" y="1428" font-size="14" font-weight="bold" fill="#eef0f3" textLength="109" lengthAdjust="spacingAndGlyphs">SAVINGS / DE...</text>
<text class="pc" x="1084" y="1446">29.4%</text>
<text x="1587" y="1439" font-size="14" font-weight="bold" fill="#eef0f3" text-anchor="end">NEED</text>
<text class="pc" x="1587" y="1458" text-anchor="end">33.2%</text>
<text x="1084" y="1613" font-size="14" font-weight="bold" fill="#eef0f3">WANT</text>

<!-- Chart F: monthly needs -->
<rect x="1629" y="1313" width="592" height="231" fill="#2c3651"/>
<text x="1926" y="1333" font-size="15" font-weight="bold" fill="#fff" text-anchor="middle" textLength="126" lengthAdjust="spacingAndGlyphs">MONTHLY NEEDS</text>
<rect x="1832" y="1343" width="14" height="14" fill="#5ab4e5"/><text class="lg" x="1856" y="1354" textLength="41" lengthAdjust="spacingAndGlyphs">NEED</text>
<line x1="1917" y1="1350" x2="1931" y2="1350" stroke="#ff3370" stroke-width="4"/><text class="lg" x="1941" y="1354" textLength="89" lengthAdjust="spacingAndGlyphs">THRESHOLD</text>
<g stroke="#6f7688" stroke-width="1.5">
<line x1="1686" y1="1358" x2="2218" y2="1358"/><line x1="1686" y1="1398" x2="2218" y2="1398"/><line x1="1686" y1="1438" x2="2218" y2="1438"/><line x1="1686" y1="1479" x2="2218" y2="1479"/>
</g>
<line x1="1686" y1="1519.3" x2="2218" y2="1519.3" stroke="#1e2436" stroke-width="2"/>
<g font-size="13" fill="#cdd2db" text-anchor="end">
<text x="1679" y="1363">100%</text><text x="1679" y="1403">75%</text><text x="1679" y="1443">50%</text><text x="1679" y="1484">25%</text><text x="1679" y="1524">0%</text>
</g>
<line x1="1716" y1="1438" x2="2189" y2="1438" stroke="#ff3370" stroke-width="3"/>
<g fill="#5ab4e5">
<rect x="1703" y="1455.7" width="27" height="63.6"/><rect x="1746" y="1466.7" width="27" height="52.6"/><rect x="1789" y="1453.3" width="27" height="66"/><rect x="1832" y="1453.3" width="27" height="66"/><rect x="1875" y="1466.7" width="27" height="52.6"/><rect x="1918" y="1463.3" width="27" height="56"/><rect x="1961" y="1466.7" width="27" height="52.6"/><rect x="2004" y="1463.3" width="27" height="56"/><rect x="2047" y="1484" width="27" height="35.3"/><rect x="2090" y="1477.7" width="27" height="41.6"/><rect x="2133" y="1458.3" width="27" height="61"/><rect x="2176" y="1471.7" width="27" height="47.6"/>
</g>
<text class="mo2" x="1716.5" y="1538">JAN</text><text class="mo2" x="1759.5" y="1538">FEB</text><text class="mo2" x="1802.5" y="1538">MAR</text><text class="mo2" x="1845.5" y="1538">APR</text><text class="mo2" x="1888.5" y="1538">MAY</text><text class="mo2" x="1931.5" y="1538">JUN</text><text class="mo2" x="1974.5" y="1538">JUL</text><text class="mo2" x="2017.5" y="1538">AUG</text><text class="mo2" x="2060.5" y="1538">SEP</text><text class="mo2" x="2103.5" y="1538">OCT</text><text class="mo2" x="2146.5" y="1538">NOV</text><text class="mo2" x="2189.5" y="1538">DEC</text>

<!-- Chart G: monthly wants -->
<rect x="1629" y="1569" width="592" height="100" fill="#2c3651"/>
<text x="1926" y="1590" font-size="15" font-weight="bold" fill="#fff" text-anchor="middle" textLength="133" lengthAdjust="spacingAndGlyphs">MONTHLY WANTS</text>
<rect x="1831" y="1600" width="15" height="15" fill="#fbbc04"/><text class="lg" x="1856" y="1612">WANT</text>
<line x1="1917" y1="1606" x2="1931" y2="1606" stroke="#ff3370" stroke-width="4"/><text class="lg" x="1941" y="1612" textLength="89" lengthAdjust="spacingAndGlyphs">THRESHOLD</text>
<text x="1679" y="1615" font-size="13" fill="#cdd2db" text-anchor="end">100%</text>
</g>

<!-- window border -->
<rect x="391.5" y="489.5" width="1884" height="1148" rx="20" fill="none" stroke="#000" stroke-width="5"/>

<!-- connectors -->
<g stroke="#9b9b9b" stroke-width="3.5" fill="none" stroke-linecap="round" stroke-linejoin="round">
<path d="M285,1681 L285,852 Q285,834 303,834 L483,834"/>
<polyline points="470,822 485,834 470,846"/>
<path d="M1401,1681 L1401,1553"/>
<polyline points="1389,1566 1401,1551 1413,1566"/>
<path d="M2354,1681 L2354,980 Q2354,963 2337,963 L2188,963"/>
<polyline points="2200,951 2186,963 2200,975"/>
</g>
<g fill="#9b9b9b">
<circle cx="285" cy="1681" r="9"/><circle cx="1401" cy="1681" r="9"/><circle cx="2354" cy="1681" r="9"/>
</g>

<!-- badge -->
<circle cx="2291" cy="620" r="171.5" fill="#ddd3fc" stroke="#000" stroke-width="5"/>
<text x="2291" y="526" font-size="49" font-weight="bold" fill="#000" text-anchor="middle" textLength="149" lengthAdjust="spacingAndGlyphs">FULLY</text>
<text x="2291" y="594" font-size="49" font-weight="bold" fill="#000" text-anchor="middle" textLength="310" lengthAdjust="spacingAndGlyphs">AUTOMATED</text>
<g transform="translate(2290,687)">
  <g fill="#000">
    <circle r="36"/>
    <rect x="-8" y="-50" width="16" height="22" rx="2"/>
    <rect x="-8" y="-50" width="16" height="22" rx="2" transform="rotate(45)"/>
    <rect x="-8" y="-50" width="16" height="22" rx="2" transform="rotate(90)"/>
    <rect x="-8" y="-50" width="16" height="22" rx="2" transform="rotate(135)"/>
    <rect x="-8" y="-50" width="16" height="22" rx="2" transform="rotate(180)"/>
    <rect x="-8" y="-50" width="16" height="22" rx="2" transform="rotate(225)"/>
    <rect x="-8" y="-50" width="16" height="22" rx="2" transform="rotate(270)"/>
    <rect x="-8" y="-50" width="16" height="22" rx="2" transform="rotate(315)"/>
  </g>
  <circle r="16" fill="#ddd3fc"/>
  <path d="M-69.7,-6.1 A70,70 0 0 1 45,-53.6" fill="none" stroke="#000" stroke-width="8"/>
  <polygon points="59.4,-37.1 33.7,-44.7 50.6,-67.1" fill="#000"/>
  <path d="M69.7,6.1 A70,70 0 0 1 -45,53.6" fill="none" stroke="#000" stroke-width="8"/>
  <polygon points="-59.4,37.1 -33.7,44.7 -50.6,67.1" fill="#000"/>
</g>

<!-- captions -->
<text class="cap" x="550" y="1759" textLength="590" lengthAdjust="spacingAndGlyphs">Streamlined setup with <tspan font-weight="bold">color</tspan></text>
<text class="cap" x="550" y="1824" textLength="687" lengthAdjust="spacingAndGlyphs"><tspan font-weight="bold">coding</tspan>, <tspan font-weight="bold">fully integrated</tspan> with your</text>
<text class="cap" x="550" y="1888" textLength="249" lengthAdjust="spacingAndGlyphs">spreadsheet</text>

<text class="cap" x="1401" y="1759" textLength="764" lengthAdjust="spacingAndGlyphs">An <tspan font-weight="bold">intuitive chart and table designed</tspan></text>
<text class="cap" x="1401" y="1824" textLength="715" lengthAdjust="spacingAndGlyphs">to help you easily <tspan font-weight="bold">understand your</tspan></text>
<text class="cap" x="1401" y="1888" font-weight="bold" textLength="173" lengthAdjust="spacingAndGlyphs">finances</text>

<text class="cap" x="2152" y="1792" textLength="544" lengthAdjust="spacingAndGlyphs">View your <tspan font-weight="bold">annual financial</tspan></text>
<text class="cap" x="2152" y="1856" textLength="374" lengthAdjust="spacingAndGlyphs">data automatically</text>

<text x="2318" y="1993" font-size="22" fill="#4a4a4a" textLength="318" lengthAdjust="spacing">@prioridigitalstudio</text>
</svg>
</body></html>
